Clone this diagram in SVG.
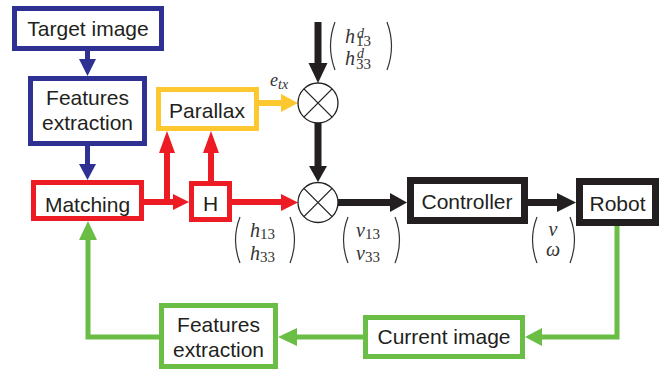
<svg xmlns="http://www.w3.org/2000/svg" width="664" height="371" viewBox="0 0 664 371">
<style>
.box{fill:#fff}
.blue{stroke:#2E3192;stroke-width:5}
.red{stroke:#ED1C24;stroke-width:5}
.yel{stroke:#FDC82F;stroke-width:5}
.blk{stroke:#231F20;stroke-width:7}
.grn{stroke:#6ABD45;stroke-width:5}
.lbl{font-family:"Liberation Sans",Arial,sans-serif;font-size:21px;fill:#231F20;text-anchor:middle}
.m{font-family:"Liberation Serif","Times New Roman",serif;font-style:italic;font-size:20px;fill:#333}
.s{font-style:normal;font-size:15px}
.si{font-style:italic;font-size:14px}
.par{fill:none;stroke:#333;stroke-width:1.2}
.ln{fill:none}
</style>
<g id="connectors">
  <line class="blue" x1="87.5" y1="51" x2="87.5" y2="60"/>
  <polygon fill="#2E3192" points="79,59 96,59 87.5,76"/>
  <line class="blue" x1="87.5" y1="146" x2="87.5" y2="165"/>
  <polygon fill="#2E3192" points="79,164 96,164 87.5,180"/>
  <line class="red" x1="144" y1="202" x2="174" y2="202" style="stroke-width:6"/>
  <polygon fill="#ED1C24" points="173,194 173,210 189,202"/>
  <polyline class="red ln" points="167,202 167,152" style="stroke-width:6"/>
  <polygon fill="#ED1C24" points="159,153 175,153 167,131"/>
  <line class="red" x1="211" y1="181" x2="211" y2="152" style="stroke-width:6"/>
  <polygon fill="#ED1C24" points="203,153 219,153 211,131"/>
  <line class="red" x1="232" y1="202" x2="283" y2="202" style="stroke-width:6"/>
  <polygon fill="#ED1C24" points="281,194 281,211 298,202.5"/>
  <line class="yel" x1="259" y1="103" x2="283" y2="103" style="stroke-width:6"/>
  <polygon fill="#FDC82F" points="281,94 281,112 298,103"/>
  <line class="blk" x1="318" y1="22" x2="318" y2="64"/>
  <polygon fill="#231F20" points="308.5,63 327.5,63 318,83"/>
  <line class="blk" x1="318" y1="123" x2="318" y2="167"/>
  <polygon fill="#231F20" points="309,166 327,166 318,182"/>
  <line class="blk" x1="338" y1="202.5" x2="392" y2="202.5"/>
  <polygon fill="#231F20" points="390,193 390,212 407,202.5"/>
  <line class="blk" x1="528" y1="202.5" x2="559" y2="202.5"/>
  <polygon fill="#231F20" points="557,193 557,212 576,202.5"/>
  <polyline class="grn ln" points="617,226 617,337 541,337"/>
  <polygon fill="#6ABD45" points="542,328 542,346 525,337"/>
  <line class="grn" x1="363" y1="337" x2="296" y2="337"/>
  <polygon fill="#6ABD45" points="297,328 297,346 278,337"/>
  <polyline class="grn ln" points="159,337 88,337 88,239"/>
  <polygon fill="#6ABD45" points="79,240 97,240 88,221"/>
</g>
<g id="target-image">
  <rect class="box blue" x="14.5" y="8.5" width="147" height="40"/>
  <text class="lbl" x="88" y="36">Target image</text>
</g>
<g id="features-extraction-1">
  <rect class="box blue" x="30.5" y="78.5" width="114" height="65"/>
  <text class="lbl" x="87.5" y="105">Features</text>
  <text class="lbl" x="87.5" y="130">extraction</text>
</g>
<g id="matching">
  <rect class="box red" x="33.5" y="182.5" width="108" height="36"/>
  <text class="lbl" x="87.5" y="212">Matching</text>
</g>
<g id="h">
  <rect class="box red" x="191.5" y="183.5" width="38" height="36"/>
  <text class="lbl" x="210.5" y="211">H</text>
</g>
<g id="parallax">
  <rect class="box yel" x="158.5" y="89.5" width="98" height="39"/>
  <text class="lbl" x="207" y="118">Parallax</text>
</g>
<g id="mult-1">
  <circle cx="318" cy="103" r="20" fill="#fff" stroke="#231F20" stroke-width="1.3"/>
  <path d="M303.9 88.9 L332.1 117.1 M332.1 88.9 L303.9 117.1" stroke="#231F20" stroke-width="1.3"/>
</g>
<g id="mult-2">
  <circle cx="318" cy="202.5" r="20" fill="#fff" stroke="#231F20" stroke-width="1.3"/>
  <path d="M303.9 188.4 L332.1 216.6 M332.1 188.4 L303.9 216.6" stroke="#231F20" stroke-width="1.3"/>
</g>
<g id="controller">
  <rect class="box blk" x="410.5" y="180.5" width="114" height="40"/>
  <text class="lbl" x="467" y="209">Controller</text>
</g>
<g id="robot">
  <rect class="box blk" x="579.5" y="181.5" width="76" height="41"/>
  <text class="lbl" x="617.5" y="211">Robot</text>
</g>
<g id="current-image">
  <rect class="box grn" x="365.5" y="317.5" width="157" height="39"/>
  <text class="lbl" x="444" y="344">Current image</text>
</g>
<g id="features-extraction-2">
  <rect class="box grn" x="161.5" y="305.5" width="114" height="61"/>
  <text class="lbl" x="218.5" y="332">Features</text>
  <text class="lbl" x="218.5" y="357">extraction</text>
</g>
<g id="labels">
  <text class="m" x="270" y="86" style="font-size:18px">e<tspan class="si" dy="3">tx</tspan></text>
  <path class="par" d="M335 22 Q326 46 335 70"/>
  <path class="par" d="M387 22 Q396 46 387 70"/>
  <text class="m" x="345" y="43">h<tspan class="si" x="357" dy="-5">d</tspan><tspan class="s" x="356" dy="8">13</tspan></text>
  <text class="m" x="345" y="65">h<tspan class="si" x="357" dy="-7">d</tspan><tspan class="s" x="356" dy="11">33</tspan></text>
  <path class="par" d="M240 217 Q231 240 240 263"/>
  <path class="par" d="M290 217 Q299 240 290 263"/>
  <text class="m" x="250" y="237">h<tspan class="s" dy="2">13</tspan></text>
  <text class="m" x="250" y="260">h<tspan class="s" dy="2">33</tspan></text>
  <path class="par" d="M348 217 Q339 240 348 263"/>
  <path class="par" d="M395 217 Q404 240 395 263"/>
  <text class="m" x="356" y="237">ν<tspan class="s" dy="2">13</tspan></text>
  <text class="m" x="356" y="260">ν<tspan class="s" dy="2">33</tspan></text>
  <path class="par" d="M537 217 Q528 240 537 263"/>
  <path class="par" d="M570 217 Q579 240 570 263"/>
  <text class="m" x="553" y="236" text-anchor="middle">v</text>
  <text class="m" x="553" y="256" text-anchor="middle">ω</text>
</g>
</svg>
